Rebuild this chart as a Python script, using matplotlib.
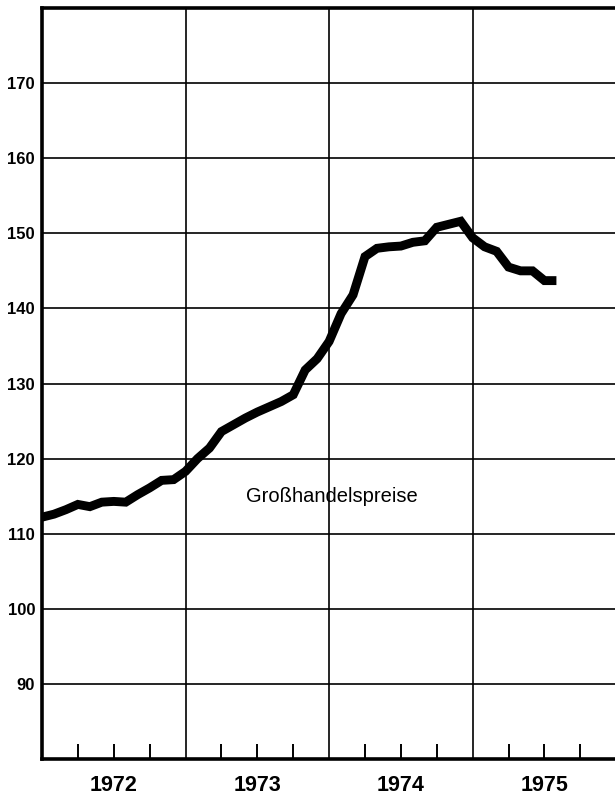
import numpy as np
import matplotlib
matplotlib.use('Agg')
import matplotlib.pyplot as plt
from matplotlib.ticker import FixedLocator, NullFormatter

# Großhandelspreise, monthly index values Jan 1972 .. Aug 1975
months = np.arange(44)
values = [112.2, 112.6, 113.2, 113.9, 113.6, 114.2, 114.3, 114.2, 115.2, 116.1, 117.1, 117.2,
          118.3, 120.0, 121.4, 123.6, 124.5, 125.4, 126.2, 126.9, 127.6, 128.5, 131.8, 133.3,
          135.6, 139.3, 141.8, 146.9, 148.0, 148.2, 148.3, 148.8, 149.0, 150.8, 151.2, 151.6,
          149.4, 148.2, 147.6, 145.5, 145.0, 145.0, 143.7, 143.7]
years = [1972, 1973, 1974, 1975]
y_ticks = [90, 100, 110, 120, 130, 140, 150, 160, 170]
label = 'Großhandelspreise'

x = 1972 + months / 12.0

plt.rcParams['font.family'] = ['Liberation Sans', 'DejaVu Sans']

fig = plt.figure(figsize=(6.15, 7.97), dpi=100)
ax = fig.add_axes([42/615, 38/797, 1 - 42/615 + 0.002, 751/797])

ax.plot(x, values, color='black', lw=6.4, solid_joinstyle='miter', solid_capstyle='butt', zorder=3)

ax.set_xlim(1972, 1976)
ax.set_ylim(80, 180)

# year boundaries as grid, quarter ticks inward
ax.xaxis.set_major_locator(FixedLocator([1973, 1974, 1975]))
ax.xaxis.set_major_formatter(NullFormatter())
ax.xaxis.set_minor_locator(FixedLocator([y + q / 4 for y in years for q in (1, 2, 3)]))
ax.tick_params(axis='x', which='major', length=0)
ax.tick_params(axis='x', which='minor', direction='in', length=11, width=1.4, color='black')
for yr in years:
    ax.text(yr + 0.5, -0.021, str(yr), transform=ax.get_xaxis_transform(),
            ha='center', va='top', fontsize=15.5, fontweight='bold')

ax.set_yticks(y_ticks)
ax.tick_params(axis='y', length=0, pad=5, labelsize=12)
for t in ax.get_yticklabels():
    t.set_fontweight('bold')
ax.grid(True, which='major', color='black', lw=1.2)
ax.set_axisbelow(True)

for s in ['left', 'bottom', 'top']:
    ax.spines[s].set_linewidth(2.6)
ax.spines['right'].set_visible(False)

ax.text(1973.0 + (332 - 186) / 143.3, 114.9, label, ha='center', va='center', fontsize=14.5)

fig.savefig('out.png', dpi=100)
